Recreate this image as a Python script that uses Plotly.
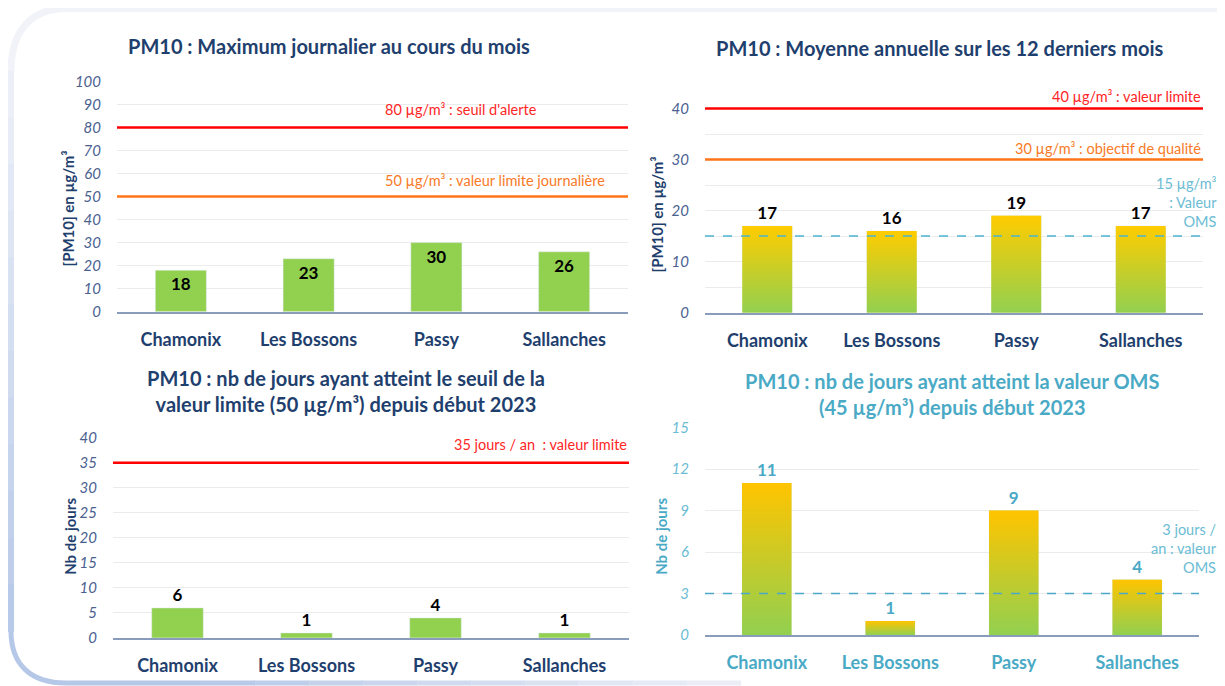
import plotly.graph_objects as go

# ---------------- data ----------------
categories = ["Chamonix", "Les Bossons", "Passy", "Sallanches"]
max_journalier = [18, 23, 30, 26]
moyenne_annuelle = [17, 16, 19, 17]
jours_valeur_limite = [6, 1, 4, 1]
jours_oms = [11, 1, 9, 4]

seuil_alerte = 80
valeur_limite_journaliere = 50
valeur_limite_annuelle = 40
objectif_qualite = 30
valeur_oms_annuelle = 15
jours_limite = 35
jours_oms_limite = 3

# ---------------- style ----------------
PAGE_W = 1225
OFF = 8  # default body margin of the html page
W, H = PAGE_W - 2 * OFF, 687
FONT = "Lato"
NAVY = "#1F3F6E"
TICK = "#4A6190"
TEAL = "#4AAAC6"
TEAL_LIGHT = "#6BBCD4"
RED = "#FF0000"
ORANGE = "#FF7518"
GREEN = "#92D050"
GRID = "#EBEBEB"
AXLINE = "#8A9CBB"
GRAD = [[0, "#92D050"], [1, "#FFC400"]]
BAR_W = 0.4
VS, VB = 0.973, 9.8  # observed vertical mapping of the capture


def px(x):
    return (x - OFF) / W


def py(y):
    y = (y - VB) / VS
    return 1 - (y - OFF) / H


fig = go.Figure()

x_pos = list(range(len(categories)))

# ---- subplot domains (page pixel based) ----
domains = {
    1: dict(x=(117, 628), y=(311, 81)),
    2: dict(x=(705, 1203), y=(312, 82.5)),
    3: dict(x=(113, 629), y=(637, 437)),
    4: dict(x=(705, 1199), y=(634, 427)),
}

# ---- chart 1 : solid green bars, labels inside ----
fig.add_trace(go.Bar(
    x=x_pos, y=max_journalier, width=BAR_W, marker=dict(color=GREEN),
    text=max_journalier, textposition="inside", insidetextanchor="end",
    textangle=0,
    textfont=dict(family=FONT, size=17, color="black", weight="bold"),
    xaxis="x", yaxis="y", showlegend=False, hoverinfo="x+y"))

# ---- chart 2 : gradient bars ----
fig.add_trace(go.Bar(
    x=x_pos, y=moyenne_annuelle, width=BAR_W, marker=dict(color="#C8CF2A"),
    text=moyenne_annuelle, textposition="outside", cliponaxis=False,
    textfont=dict(family=FONT, size=17, color="black", weight="bold"),
    xaxis="x2", yaxis="y2", showlegend=False))
for i, v in zip(x_pos, moyenne_annuelle):
    fig.add_trace(go.Scatter(
        x=[i - BAR_W / 2, i + BAR_W / 2, i + BAR_W / 2, i - BAR_W / 2, i - BAR_W / 2],
        y=[0, 0, v, v, 0], mode="lines", fill="toself", line=dict(width=0),
        fillgradient=dict(type="vertical", colorscale=[[0, "#92D050"], [1, "#FFCC00"]]),
        xaxis="x2", yaxis="y2", showlegend=False, hoverinfo="skip"))

# ---- chart 3 : solid green bars, labels above ----
fig.add_trace(go.Bar(
    x=x_pos, y=jours_valeur_limite, width=BAR_W, marker=dict(color=GREEN),
    text=jours_valeur_limite, textposition="outside", cliponaxis=False,
    textfont=dict(family=FONT, size=17, color="black", weight="bold"),
    xaxis="x3", yaxis="y3", showlegend=False))

# ---- chart 4 : gradient bars, teal labels ----
fig.add_trace(go.Bar(
    x=x_pos, y=jours_oms, width=BAR_W, marker=dict(color="#C8CF2A"),
    text=jours_oms, textposition="outside", cliponaxis=False,
    textfont=dict(family=FONT, size=17, color=TEAL, weight="bold"),
    xaxis="x4", yaxis="y4", showlegend=False))
for i, v in zip(x_pos, jours_oms):
    fig.add_trace(go.Scatter(
        x=[i - BAR_W / 2, i + BAR_W / 2, i + BAR_W / 2, i - BAR_W / 2, i - BAR_W / 2],
        y=[0, 0, v, v, 0], mode="lines", fill="toself", line=dict(width=0),
        fillgradient=dict(type="vertical", colorscale=GRAD),
        xaxis="x4", yaxis="y4", showlegend=False, hoverinfo="skip"))

# ---- axes ----
layout_axes = {}
yconf = {
    1: dict(range=[0, 100], dtick=10),
    2: dict(range=[0, 45], tickvals=[0, 10, 20, 30, 40],
            minor=dict(dtick=5, showgrid=True, gridcolor=GRID, ticks="")),
    3: dict(range=[0, 40], dtick=5),
    4: dict(range=[0, 15], dtick=3),
}
for k in range(1, 5):
    d = domains[k]
    xs = "xaxis" if k == 1 else f"xaxis{k}"
    ys = "yaxis" if k == 1 else f"yaxis{k}"
    cat_col = TEAL if k == 4 else NAVY
    tick_col = TEAL_LIGHT if k == 4 else TICK
    layout_axes[xs] = dict(
        domain=[px(d["x"][0]), px(d["x"][1])], anchor="y" if k == 1 else f"y{k}",
        range=[-0.5, 3.5], tickvals=x_pos, ticktext=categories,
        showgrid=False, zeroline=False, showline=True, linecolor=AXLINE, linewidth=1.5,
        ticks="outside", ticklen=11, tickcolor="rgba(0,0,0,0)",
        tickfont=dict(family=FONT, size=18, color=cat_col, weight="bold"),
        fixedrange=True)
    layout_axes[ys] = dict(
        domain=[py(d["y"][0]), py(d["y"][1])], anchor="x" if k == 1 else f"x{k}",
        showgrid=True, gridcolor=GRID, gridwidth=1, zeroline=False, showline=False,
        ticks="outside", ticklen=12, tickcolor="rgba(0,0,0,0)",
        tickfont=dict(family=FONT, size=15, color=tick_col, style="italic"),
        fixedrange=True, **yconf[k])

# ---- reference lines ----
shapes = []
annotations = []


def hline(k, yv, color, width=2.5, dash="solid"):
    xr = "x domain" if k == 1 else f"x{k} domain"
    yr = "y" if k == 1 else f"y{k}"
    shapes.append(dict(type="line", xref=xr, yref=yr, x0=0, x1=1, y0=yv, y1=yv,
                       line=dict(color=color, width=width, dash=dash), layer="above"))


def hlabel(k, yv, text, color, x, xanchor, yshift):
    xr = "x domain" if k == 1 else f"x{k} domain"
    yr = "y" if k == 1 else f"y{k}"
    annotations.append(dict(xref=xr, yref=yr, x=x, y=yv, xanchor=xanchor, yanchor="bottom",
                            yshift=yshift, text=text, showarrow=False,
                            font=dict(family=FONT, size=14.5, color=color)))


hline(1, seuil_alerte, RED)
hlabel(1, seuil_alerte, f"{seuil_alerte} µg/m³ : seuil d'alerte", "#FF2525", 0.52, "left", 8)
hline(1, valeur_limite_journaliere, ORANGE)
hlabel(1, valeur_limite_journaliere, f"{valeur_limite_journaliere} µg/m³ : valeur limite journalière",
       "#F97A26", 0.52, "left", 6)

hline(2, valeur_limite_annuelle, RED)
hlabel(2, valeur_limite_annuelle, f"{valeur_limite_annuelle} µg/m³ : valeur limite", "#FF2525", 1.0, "right", 1)
hline(2, objectif_qualite, ORANGE)
hlabel(2, objectif_qualite, f"{objectif_qualite} µg/m³ : objectif de qualité", "#F97A26", 1.0, "right", 1)
hline(2, valeur_oms_annuelle, "#4BB4D0", width=1.5, dash="dash")

hline(3, jours_limite, RED)
hlabel(3, jours_limite, f"{jours_limite} jours / an  : valeur limite", "#FF2525", 1.0, "right", 8)

hline(4, jours_oms_limite, "#4BA8C8", width=1.5, dash="dash")

annotations.append(dict(xref="paper", yref="paper", x=px(1219), y=py(202), xanchor="right", yanchor="middle",
                        text=f"{valeur_oms_annuelle} µg/m³<br>: Valeur<br>OMS", align="right", showarrow=False,
                        font=dict(family=FONT, size=14.5, color=TEAL_LIGHT)))
annotations.append(dict(xref="paper", yref="paper", x=px(1219), y=py(548), xanchor="right", yanchor="middle",
                        text=f"{jours_oms_limite} jours /<br>an : valeur<br>OMS", align="right", showarrow=False,
                        font=dict(family=FONT, size=14.5, color=TEAL_LIGHT)))

# ---- titles ----
titles = [
    ("PM10 : Maximum journalier au cours du mois", 329, 46, NAVY),
    ("PM10 : Moyenne annuelle sur les 12 derniers mois", 940, 48, NAVY),
    ("PM10 : nb de jours ayant atteint le seuil de la<br>valeur limite (50 µg/m³) depuis début 2023", 346, 390, NAVY),
    ("PM10 : nb de jours ayant atteint la valeur OMS<br>(45 µg/m³) depuis début 2023", 952, 393, TEAL),
]
for t, x, y, c in titles:
    annotations.append(dict(xref="paper", yref="paper", x=px(x), y=py(y), xanchor="center", yanchor="middle",
                            text=t, showarrow=False, align="center",
                            font=dict(family=FONT, size=20, color=c, weight="bold")))

# ---- axis titles ----
ytitles = [
    ("[PM10] en µg/m³", 68, 208, NAVY),
    ("[PM10] en µg/m³", 657, 214, NAVY),
    ("Nb de jours", 70, 536, NAVY),
    ("Nb de jours", 661, 536, TEAL),
]
for t, x, y, c in ytitles:
    annotations.append(dict(xref="paper", yref="paper", x=px(x), y=py(y), xanchor="center", yanchor="middle",
                            text=t, textangle=-90, showarrow=False,
                            font=dict(family=FONT, size=15, color=c, weight="bold")))


# ---- rounded card border ----
def P(x, y):
    return f"{px(x):.5f},{py(y):.5f}"


def lerp_col(c1, c2, t):
    a = [int(c1[i:i + 2], 16) for i in (1, 3, 5)]
    b = [int(c2[i:i + 2], 16) for i in (1, 3, 5)]
    return "#" + "".join(f"{round(a[j] + (b[j] - a[j]) * t):02X}" for j in range(3))


shapes.append(dict(type="path", xref="paper", yref="paper", layer="below",
                   path=f"M {P(11, 70)} C {P(11, 30)} {P(32, 8)} {P(66, 8)} L {P(1230, 8)}",
                   line=dict(color="#F1F3F9", width=7)))
n_seg = 12
y0s, y1s = 70, 630
for s in range(n_seg):
    ya = y0s + (y1s - y0s) * s / n_seg
    yb = y0s + (y1s - y0s) * (s + 1) / n_seg + 1
    col = lerp_col("#EEF1F8", "#B6C8E8", (s + 0.5) / n_seg)
    shapes.append(dict(type="path", xref="paper", yref="paper", layer="below",
                       path=f"M {P(11, ya)} L {P(11, yb)}", line=dict(color=col, width=6)))
shapes.append(dict(type="path", xref="paper", yref="paper", layer="below",
                   path=f"M {P(11, 630)} C {P(11, 663)} {P(30, 682)} {P(66, 682)} L {P(200, 682)}",
                   line=dict(color="#B6C8E8", width=5)))
n_seg2 = 10
for s in range(n_seg2):
    xa = 200 + (740 - 200) * s / n_seg2
    xb = 200 + (740 - 200) * (s + 1) / n_seg2 + 1
    col = lerp_col("#B6C8E8", "#EEF0F8", (s + 0.5) / n_seg2)
    shapes.append(dict(type="path", xref="paper", yref="paper", layer="below",
                       path=f"M {P(xa, 682)} L {P(xb, 682)}", line=dict(color=col, width=5)))

fig.update_layout(
    width=W, height=H, margin=dict(l=0, r=0, t=0, b=0),
    paper_bgcolor="white", plot_bgcolor="white",
    font=dict(family=FONT), bargap=0.6,
    shapes=shapes, annotations=annotations, showlegend=False,
    **layout_axes)

fig.write_html("out.html")
